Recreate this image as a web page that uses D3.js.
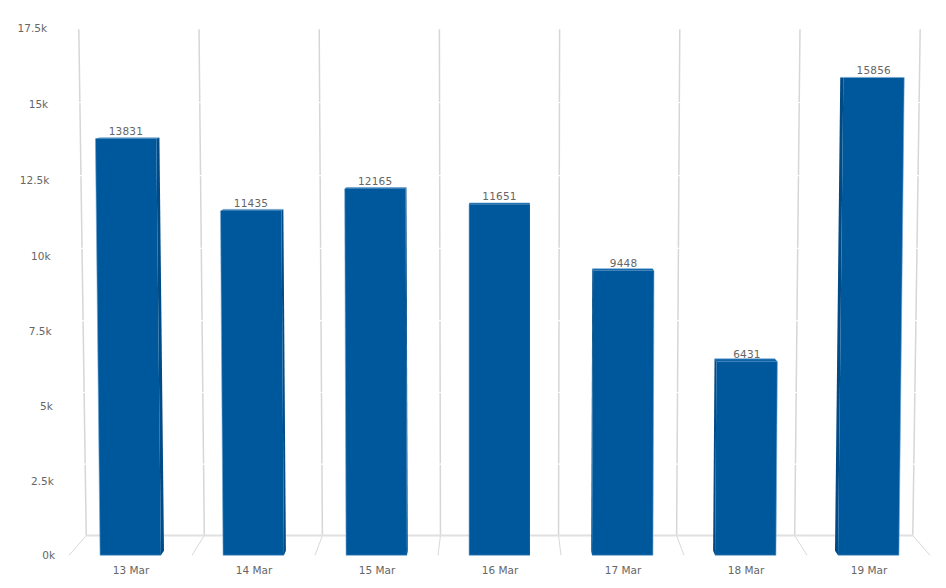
<!DOCTYPE html>
<html><head><meta charset="utf-8">
<script src="https://cdn.jsdelivr.net/npm/d3@7"></script>
<style>html,body{margin:0;padding:0;background:#fff}svg{display:block}text{font-family:"DejaVu Sans",sans-serif;font-size:10.5px;fill:#666}.num{letter-spacing:.2px}</style>
</head><body><svg id="c" width="946" height="588"></svg>
<script>
const categories = ["13 Mar","14 Mar","15 Mar","16 Mar","17 Mar","18 Mar","19 Mar"];
const values = [13831,11435,12165,11651,9448,6431,15856];
const tickValues = [0,2500,5000,7500,10000,12500,15000,17500];
const tickLabels = ["0k","2.5k","5k","7.5k","10k","12.5k","15k","17.5k"];

const svg = d3.select("#c");
const yBar = d3.scaleLinear().domain([0,17500]).range([555.3,28]);
const y = v => yBar(v) + 2.2*Math.sin(Math.PI*v/17500);   // slight perspective bow of the tilted wall
const x = d3.scaleBand().domain(categories).range([69,930]).paddingInner(0.505).paddingOuter(0.2525);
const vx = 499.5, vy = 60, tilt = 3.4e-5, barTilt = 3.0e-5, wallDepth = 0.04, barDepth = 0.009;
function project(px, v, d, k = tilt, yf = y){
  const y0 = yf(v), s = 1 + k*(yf(0)-y0);
  const fx = vx + (px-vx)*s;
  return [fx + (vx-fx)*d, y0 + (vy-y0)*d];
}
const step = x.step();
const edges = d3.range(categories.length+1).map(i => x.range()[0] + i*step);
const line = d3.line();

const walls = svg.append("g");
walls.selectAll("path.v").data(edges).join("path").attr("class","v")
  .attr("d", e => line(tickValues.map(v => project(e,v,wallDepth))))
  .attr("fill","none").attr("stroke","#d6d6d6").attr("stroke-width",1.5);
walls.selectAll("path.f").data(edges).join("path").attr("class","f")
  .attr("d", e => line([project(e,0,0), project(e,0,wallDepth)]))
  .attr("fill","none").attr("stroke","#d4d4d4").attr("stroke-width",0.9);
walls.append("path")
  .attr("d", line([project(edges[0],0,wallDepth), project(edges[edges.length-1],0,wallDepth)]))
  .attr("fill","none").attr("stroke","#e0e0e0").attr("stroke-width",2);
walls.selectAll("path.g").data(tickValues.slice(1,-1)).join("path").attr("class","g")
  .attr("d", v => line([project(edges[0]-3,v,wallDepth), project(edges[edges.length-1]+3,v,wallDepth)]))
  .attr("fill","none").attr("stroke","#fff").attr("stroke-width",1.2);

svg.append("g").selectAll("text").data(tickValues).join("text")
  .attr("x", v => project(55,v,0)[0])
  .attr("y", v => project(55,v,0)[1] + 4)
  .attr("text-anchor","end")
  .text((v,i) => tickLabels[i]);

svg.append("g").selectAll("text").data(categories).join("text")
  .attr("x", c => x(c)+x.bandwidth()/2+0.5)
  .attr("y", 574)
  .attr("text-anchor","middle")
  .text(c => c);

const bars = svg.append("g").selectAll("g").data(categories).join("g");
const fFront="#00589c", fSide="#004a85", fTop="#0b62a6", edge="rgba(110,165,210,0.75)";
function pts(c,v){
  const m = x(c)+x.bandwidth()/2, w = x.bandwidth()/2;
  const at = (val,side,d) => {
    const p = project(m,val,0,barTilt,yBar), px = p[0]+side*w;
    return [px+(vx-px)*d, p[1]+(vy-p[1])*d];
  };
  return {
    fl:at(0,-1,0), fr:at(0,1,0), tl:at(v,-1,0), tr:at(v,1,0),
    bfl:at(0,-1,barDepth), bfr:at(0,1,barDepth), btl:at(v,-1,barDepth), btr:at(v,1,barDepth)
  };
}
bars.each(function(c,i){
  const g=d3.select(this), v=values[i], p=pts(c,v);
  const m = x(c)+x.bandwidth()/2;
  const left = m > vx+1, mid = Math.abs(m-vx) < 1;
  if(!mid){
    const side = left ? [p.fl,p.tl,p.btl,p.bfl] : [p.fr,p.tr,p.btr,p.bfr];
    g.append("path").attr("d",line(side)+"Z").attr("fill",fSide);
  }
  g.append("path").attr("d",line([p.tl,p.tr,p.btr,p.btl])+"Z").attr("fill",fTop);
  g.append("path").attr("d",line([p.fl,p.fr,p.tr,p.tl])+"Z").attr("fill",fFront);
  g.append("path").attr("d",line(left?[p.tr,p.fr,p.fl]:[p.tl,p.fl,p.fr])).attr("fill","none").attr("stroke",edge).attr("stroke-width",0.8);
  g.append("path").attr("d",line([p.btl,p.btr])).attr("fill","none").attr("stroke",edge).attr("stroke-width",0.8);
  const ctr=project(m,v,0,barTilt,yBar);
  g.append("text").attr("class","num").attr("x",ctr[0]).attr("y",ctr[1]-4).attr("text-anchor","middle").text(v);
});
</script></body></html>
